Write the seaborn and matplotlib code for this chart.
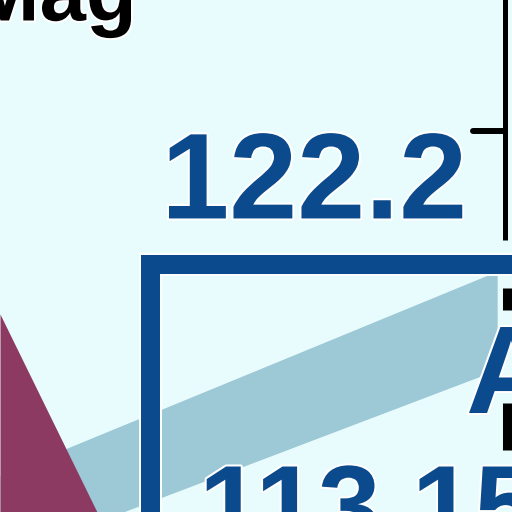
import matplotlib
matplotlib.use("Agg")
import matplotlib.pyplot as plt
import matplotlib.patheffects as pe
from matplotlib.patches import Rectangle
import seaborn as sns

band_x = [0, 97.1]
band_upper = [102.13, 114.11]
band_lower = [97.26, 108.33]

area_x = [0, 20.5]
area_top = [111.6, 99.05]

axis_x = 98.73
axis_top = [131, 115.94]
tick_value = 122.3
tick_x = [92.4, 98.73]
axis_inner_x = 99.1
axis_inner = [[113.13, 111.84], [106.39, 103.63]]

box_left = 29.3
box_top = 114.56

value_labels = ["122.2", "113.15"]
label_x = [31.5, 38.87]
label_y = [117.2, 98.13]
label_size = [88, 81]

name_label = "A"
name_x, name_y = 91.0, 105.8
title_text = "Mag"
title_x, title_y = 26.76, 128.8

bg = "#E8FBFD"
dark_blue = "#0B4A8C"
band_color = "#9DC8D5"
maroon = "#8C3A62"

sns.set_theme(style="white")
plt.rcParams["font.family"] = ["Liberation Sans", "DejaVu Sans"]

fig = plt.figure(figsize=(5.12, 5.12), dpi=100)
fig.patch.set_facecolor(bg)
ax = fig.add_axes([0, 0, 1, 1])
ax.set_facecolor(bg)
ax.set_xlim(0, 100)
ax.set_ylim(100, 130)
ax.axis("off")

# series band and area
ax.fill_between(band_x, band_lower, band_upper, color=band_color, lw=0, zorder=1)
ax.fill_between(area_x, area_top, 90, color=maroon, lw=0, zorder=2)

# right value axis
ax.plot([axis_x, axis_x], axis_top, color="black", lw=3.6,
        solid_capstyle="butt", zorder=2)
sns.lineplot(x=tick_x, y=[tick_value, tick_value], color="black", lw=4.3,
             ax=ax, zorder=2)
for seg in axis_inner:
    ax.plot([axis_inner_x, axis_inner_x], seg, color="black", lw=6.5,
            solid_capstyle="butt", zorder=2)

# highlight box
box = Rectangle((box_left, 80), 100, box_top - 80, fill=False,
                edgecolor=dark_blue, lw=13.7, zorder=3)
box.set_path_effects([pe.Stroke(linewidth=16.5, foreground="white"), pe.Normal()])
ax.add_patch(box)

halo = [pe.withStroke(linewidth=3, foreground="white")]
for txt, x, y, s in zip(value_labels, label_x, label_y, label_size):
    ax.text(x, y, txt, fontsize=s, fontweight="bold", color=dark_blue,
            ha="left", va="baseline", path_effects=halo, zorder=4)
ax.text(name_x, name_y, name_label, fontsize=90, fontweight="bold", color=dark_blue,
        ha="left", va="baseline", path_effects=halo, zorder=4)
ax.text(title_x, title_y, title_text, fontsize=60, fontweight="bold", color="black",
        ha="right", va="baseline", path_effects=halo, zorder=4)

fig.savefig("out.png", dpi=100, facecolor=bg)
